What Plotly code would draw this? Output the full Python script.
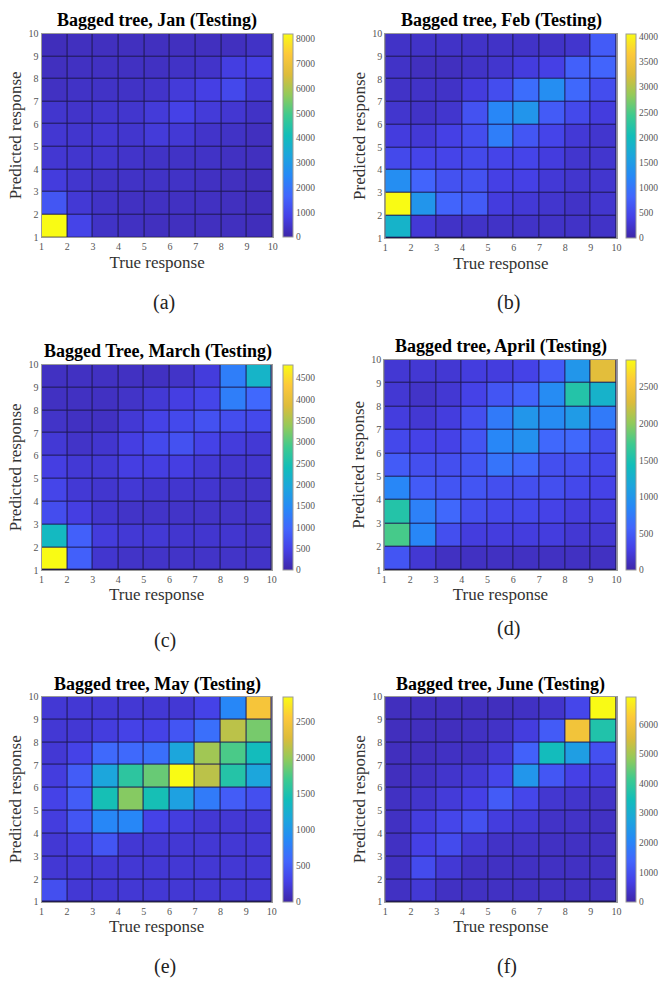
import plotly.graph_objects as go

W, H = 664, 988

edges = [1, 2, 3, 4, 5, 6, 7, 8, 9, 10]
tick_labels = [str(v) for v in edges]

titles = ["Bagged tree, Jan (Testing)", "Bagged tree, Feb (Testing)",
          "Bagged Tree, March (Testing)", "Bagged tree, April (Testing)",
          "Bagged tree, May (Testing)", "Bagged tree, June (Testing)"]
panel_labels = ["(a)", "(b)", "(c)", "(d)", "(e)", "(f)"]

# rows: predicted response 1..9 (bottom to top), cols: true response 1..9
z_jan = [
    [8200, 900, 400, 350, 300, 300, 300, 300, 250],
    [1300, 600, 400, 350, 350, 350, 350, 300, 250],
    [700, 500, 400, 400, 400, 400, 350, 300, 250],
    [550, 500, 500, 450, 400, 400, 400, 350, 300],
    [550, 500, 550, 500, 650, 600, 450, 400, 300],
    [500, 450, 500, 500, 650, 850, 650, 550, 400],
    [350, 400, 400, 400, 450, 650, 800, 1000, 600],
    [300, 350, 350, 350, 350, 400, 450, 750, 800],
    [250, 300, 300, 300, 300, 300, 300, 300, 400],
]
z_feb = [
    [1850, 300, 200, 200, 200, 200, 200, 200, 200],
    [4050, 1400, 800, 700, 350, 300, 250, 200, 250],
    [1300, 800, 600, 600, 400, 400, 300, 250, 250],
    [500, 450, 450, 500, 450, 450, 350, 250, 250],
    [350, 300, 400, 550, 1100, 650, 450, 300, 250],
    [250, 200, 250, 600, 1200, 1400, 700, 500, 350],
    [200, 200, 200, 350, 550, 900, 1300, 850, 550],
    [200, 150, 150, 200, 250, 350, 400, 750, 800],
    [200, 200, 200, 200, 200, 200, 200, 250, 700],
]
z_mar = [
    [4800, 900, 300, 250, 250, 250, 250, 250, 250],
    [2300, 900, 400, 350, 350, 300, 300, 300, 250],
    [650, 450, 300, 250, 250, 250, 250, 250, 250],
    [550, 350, 300, 350, 300, 300, 300, 250, 250],
    [450, 350, 350, 450, 450, 450, 350, 300, 300],
    [350, 250, 300, 450, 600, 700, 500, 400, 350],
    [250, 200, 200, 350, 500, 600, 700, 650, 600],
    [200, 200, 200, 250, 350, 450, 550, 1300, 1000],
    [200, 200, 200, 200, 200, 250, 400, 1300, 2200],
]
z_apr = [
    [450, 200, 120, 120, 120, 120, 120, 120, 120],
    [1750, 850, 400, 250, 250, 250, 250, 200, 200],
    [1550, 800, 600, 400, 350, 350, 300, 250, 250],
    [850, 500, 450, 450, 400, 400, 400, 350, 300],
    [500, 400, 400, 450, 700, 600, 400, 400, 350],
    [350, 300, 300, 450, 850, 950, 600, 600, 400],
    [250, 200, 250, 400, 750, 1000, 900, 1050, 750],
    [200, 150, 200, 300, 450, 550, 900, 1550, 1300],
    [200, 200, 200, 250, 250, 300, 500, 1000, 2350],
]
z_may = [
    [400, 200, 200, 200, 200, 200, 200, 200, 200],
    [200, 200, 200, 200, 200, 200, 200, 200, 200],
    [200, 250, 450, 200, 200, 200, 200, 200, 200],
    [250, 450, 850, 850, 300, 250, 200, 200, 200],
    [300, 500, 1450, 1950, 1450, 1100, 750, 500, 400],
    [250, 500, 1150, 1600, 1850, 2850, 2150, 1550, 1150],
    [200, 300, 600, 600, 650, 1150, 2050, 1750, 1400],
    [200, 200, 250, 300, 300, 450, 650, 2150, 1900],
    [200, 200, 200, 200, 200, 200, 300, 850, 2500],
]
z_jun = [
    [300, 500, 300, 300, 300, 300, 300, 300, 300],
    [300, 900, 500, 300, 300, 300, 300, 300, 300],
    [300, 700, 900, 500, 350, 350, 300, 300, 300],
    [300, 600, 800, 1000, 600, 500, 350, 350, 300],
    [300, 400, 550, 700, 1200, 800, 450, 400, 350],
    [250, 300, 400, 500, 800, 2400, 1100, 700, 600],
    [250, 250, 300, 300, 500, 1300, 3400, 2600, 1000],
    [250, 250, 250, 300, 350, 600, 1200, 6000, 3700],
    [250, 250, 250, 250, 250, 300, 400, 800, 6900],
]
z_all = [z_jan, z_feb, z_mar, z_apr, z_may, z_jun]
color_max = [8200, 4050, 4800, 2870, 2850, 6920]
cb_dtick = [1000, 500, 500, 500, 500, 1000]

parula = [
    [0.0, "#3e26a8"], [0.1, "#4540e6"], [0.2, "#4265fd"], [0.3, "#2788f7"],
    [0.4, "#1ca5dd"], [0.5, "#12beb9"], [0.6, "#3eca8f"], [0.7, "#93ca5a"],
    [0.8, "#ddbc3b"], [0.9, "#fdc83a"], [1.0, "#f9fb14"],
]

# pixel boxes: plot (x0, x1, y0, y1), colorbar x0
plots = [
    (39, 273, 28, 234, 283),
    (387, 621, 28, 235, 631),
    (39, 272, 363, 571, 283),
    (386, 621, 358, 571, 631),
    (39, 272, 699, 907, 283),
    (387, 621, 699, 907, 631),
]
title_pos = [(156, 15), (505, 15), (157, 350), (504, 345), (156, 687), (504, 687)]
label_pos = [(163, 300), (512, 300), (164, 642), (512, 630), (164, 972), (510, 972)]

FONT = "Liberation Serif"
fig = go.Figure()
layout = dict(width=W, height=H, margin=dict(l=0, r=0, t=0, b=0),
              paper_bgcolor="white", plot_bgcolor="#1e1850", showlegend=False,
              font=dict(family=FONT), annotations=[])

for i, (z, (x0, x1, y0, y1, cbx)) in enumerate(zip(z_all, plots)):
    n = "" if i == 0 else str(i + 1)
    fig.add_trace(go.Heatmap(
        x=edges, y=edges, z=z, xaxis="x" + n, yaxis="y" + n,
        coloraxis="coloraxis" + n, xgap=1, ygap=1,
    ))
    axcommon = dict(range=[1, 10], tickvals=edges, ticktext=tick_labels,
                    showline=True, mirror=True, linecolor="#9a9a9a", linewidth=1,
                    showgrid=False, zeroline=False, ticks="",
                    tickfont=dict(family=FONT, size=10, color="#555"))
    layout["xaxis" + n] = dict(domain=[x0 / W, x1 / W], anchor="y" + n,
                               title=dict(text="True response", standoff=4,
                                          font=dict(family=FONT, size=17, color="#333")),
                               **axcommon)
    layout["yaxis" + n] = dict(domain=[1 - y1 / H, 1 - y0 / H], anchor="x" + n,
                               title=dict(text="Predicted response", standoff=2,
                                          font=dict(family=FONT, size=17, color="#333")),
                               **axcommon)
    layout["coloraxis" + n] = dict(
        colorscale=parula, cmin=0, cmax=color_max[i],
        colorbar=dict(x=cbx / W, xanchor="left", y=1 - y1 / H, yanchor="bottom",
                      len=(y1 - y0) / H, lenmode="fraction", thickness=10,
                      xpad=0, ypad=0, outlinecolor="#9a9a9a", outlinewidth=1,
                      dtick=cb_dtick[i], tick0=0, ticks="",
                      tickfont=dict(family=FONT, size=9.5, color="#555")))
    tx, ty = title_pos[i]
    layout["annotations"].append(dict(
        text="<b>" + titles[i] + "</b>", x=tx / W, y=1 - ty / H, xref="paper", yref="paper",
        showarrow=False, xanchor="center", yanchor="middle",
        font=dict(family=FONT, size=18, color="black")))
    lx, ly = label_pos[i]
    layout["annotations"].append(dict(
        text=panel_labels[i], x=lx / W, y=1 - ly / H, xref="paper", yref="paper",
        showarrow=False, xanchor="center", yanchor="middle",
        font=dict(family=FONT, size=20, color="#222")))

fig.update_layout(**layout)
fig.write_html("out.html")
